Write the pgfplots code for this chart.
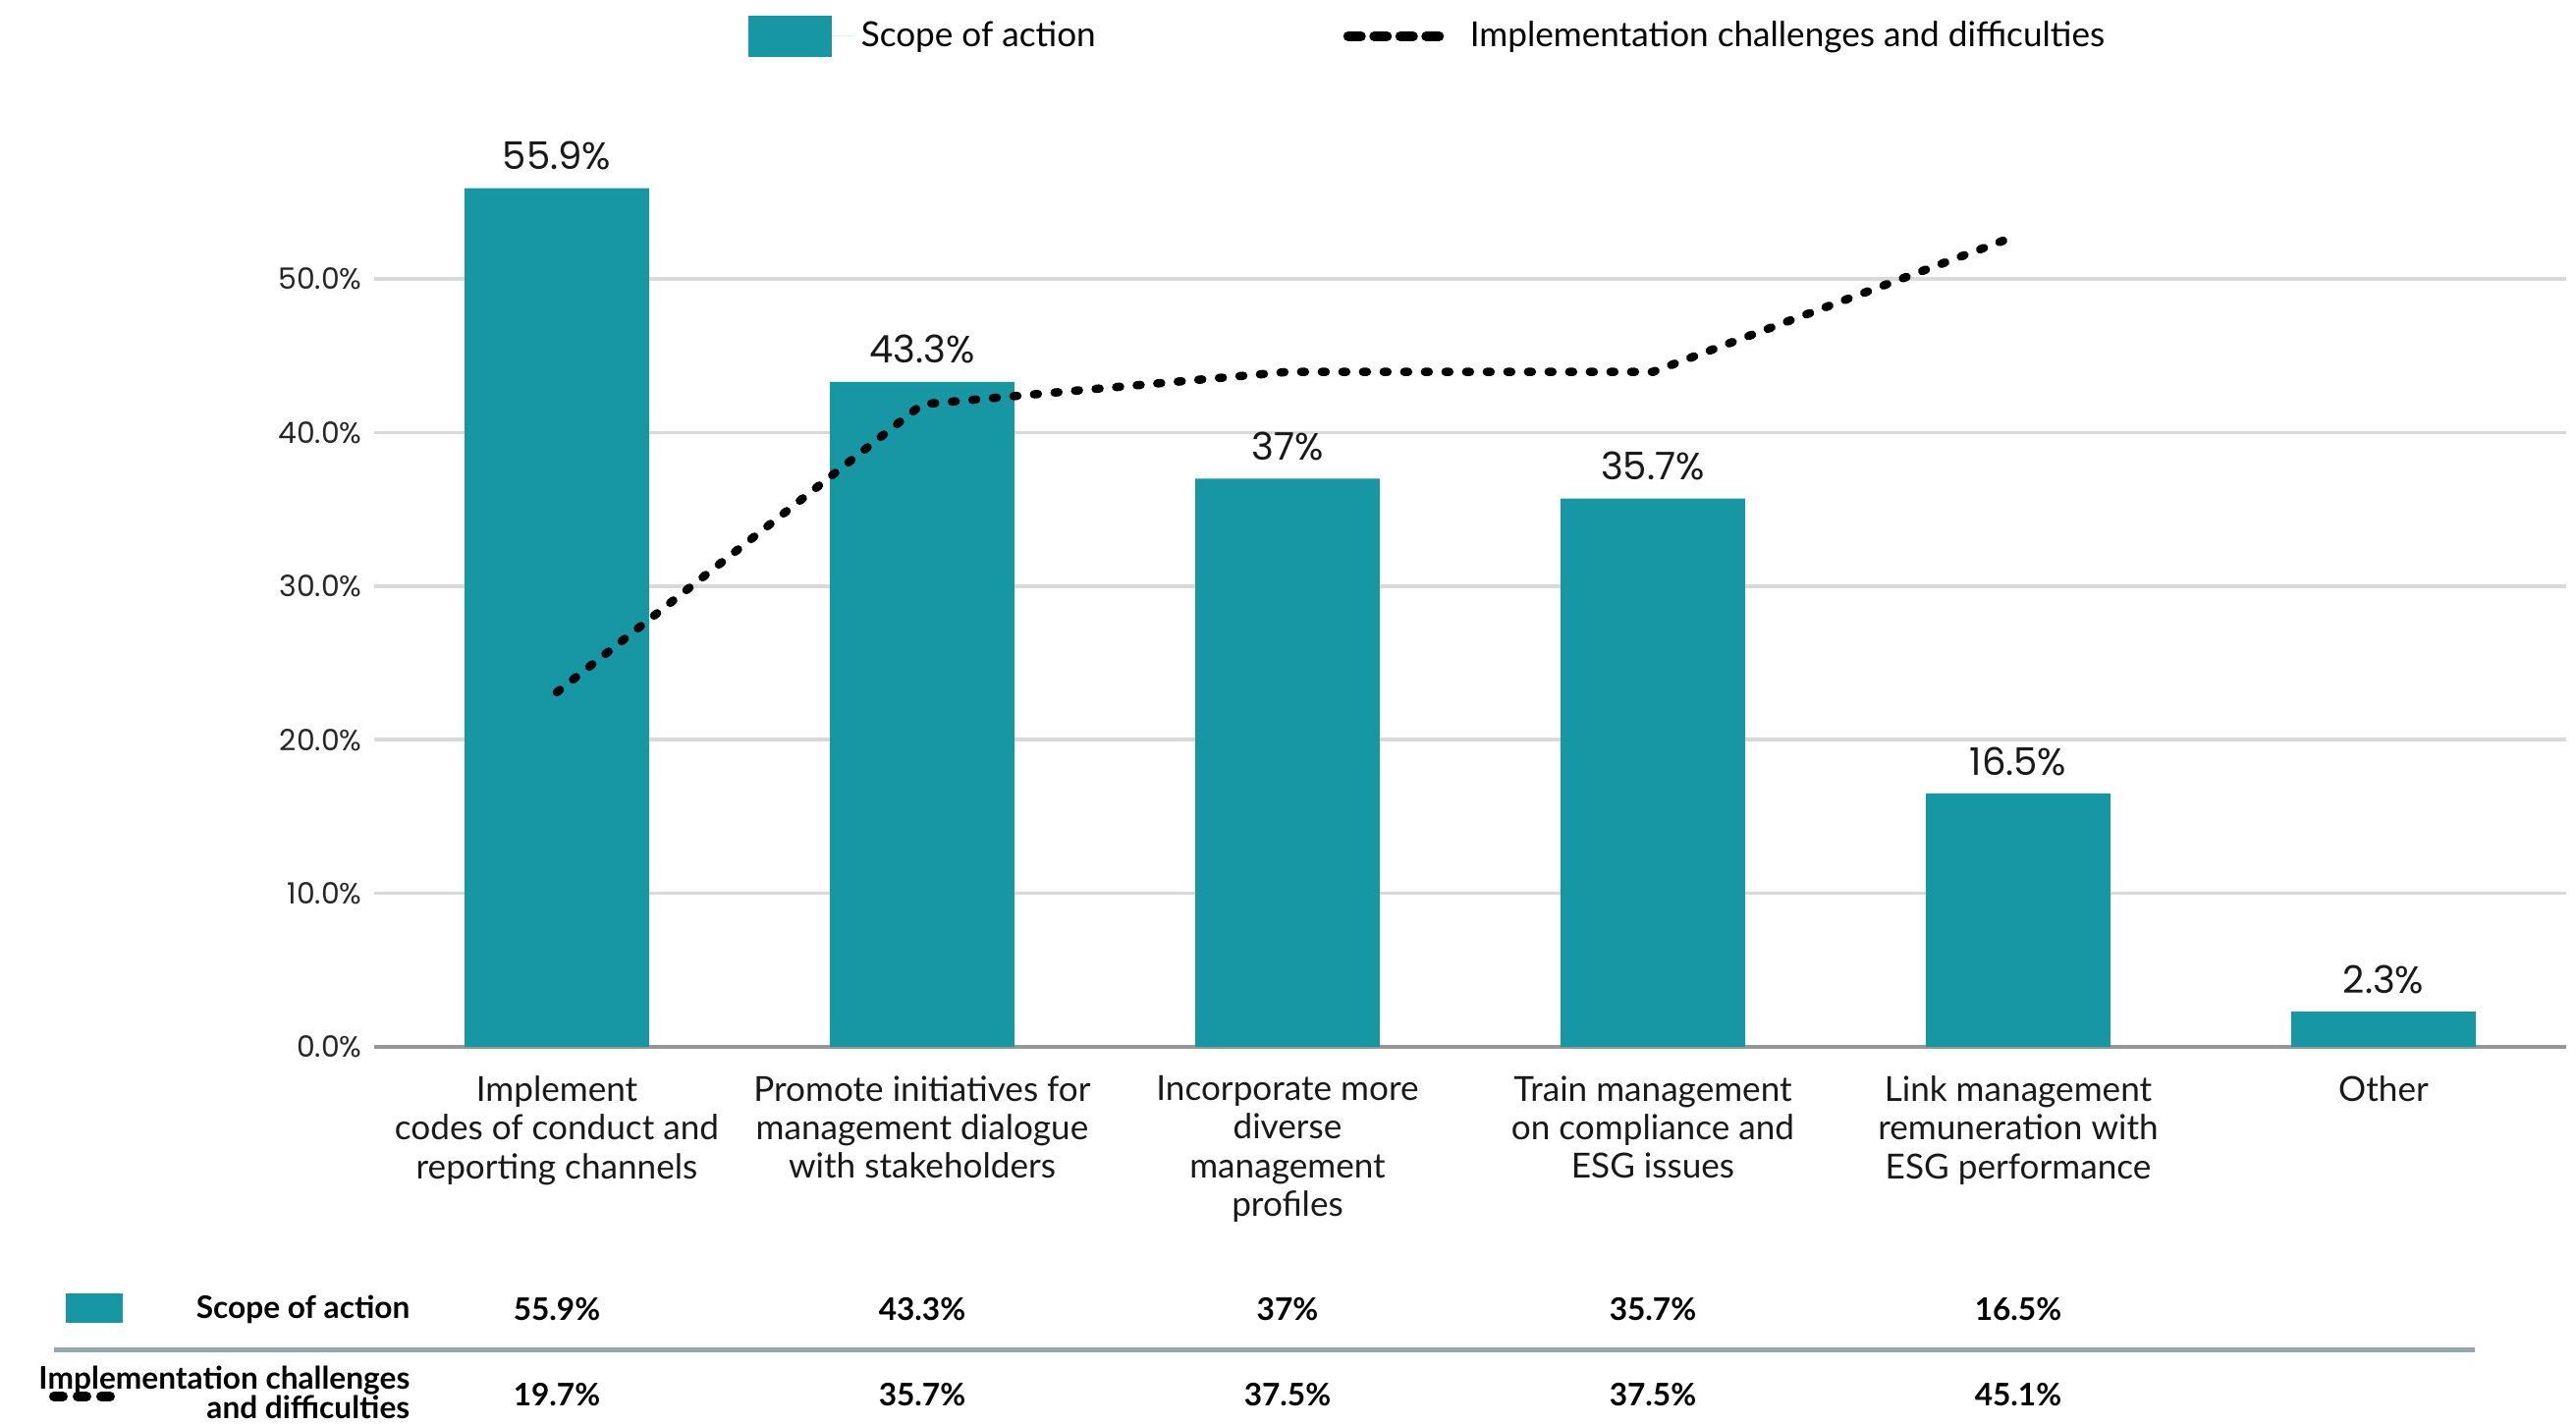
\documentclass[border=0pt]{standalone}
\usepackage{pgfplots}
\pgfplotsset{compat=1.18}
\usepackage{fontspec}
\setmainfont{Lato}
\newfontfamily\numfont{Poppins}

\definecolor{barteal}{RGB}{23,150,164}
\definecolor{gridc}{RGB}{217,217,217}
\definecolor{zeroc}{RGB}{150,150,150}
\definecolor{sepc}{RGB}{146,168,170}

\tikzset{
  chal/.style={black, line width=0.85mm, line cap=round, dash pattern=on 0.4mm off 1.7mm},
  challeg/.style={black, line width=1.0mm, line cap=round, dash pattern=on 1.3mm off 1.35mm},
}

\begin{document}
\begin{tikzpicture}
\path[use as bounding box] (-38.1mm,-38.4mm) rectangle (224.2mm,106.6mm);

% main axis: bars
\begin{axis}[
    at={(0,0)}, anchor=south west,
    scale only axis, width=223.2mm, height=93.84mm,
    xmin=-0.5, xmax=5.5, ymin=0, ymax=60,
    ybar, bar width=0.505,
    clip=false,
    /pgf/number format/assume math mode=true,
    xtick={0,...,5},
    xticklabels={
        {Implement\\codes of conduct and\\reporting channels},
        {Promote initiatives for\\management dialogue\\with stakeholders},
        {Incorporate more\\diverse\\management\\profiles},
        {Train management\\on compliance and\\ESG issues},
        {Link management\\remuneration with\\ESG performance},
        {Other}},
    xticklabel style={font=\fontsize{10}{11.2}\selectfont, align=center, text=black!90, yshift=-1.7mm},
    ytick={0,10,...,50},
    yticklabel={\pgfmathprintnumber[fixed,fixed zerofill,precision=1]{\tick}\%},
    yticklabel style={font=\numfont\fontsize{8.5}{10}\selectfont, text=black!85},
    major tick length=0pt,
    ymajorgrids,
    grid style={gridc, line width=0.35mm},
    axis x line*=bottom, axis y line*=left,
    x axis line style={zeroc, line width=0.35mm, -},
    y axis line style={draw=none},
    nodes near coords,
    point meta=explicit symbolic,
    nodes near coords style={font=\numfont\fontsize{11}{12}\selectfont, text=black!90, yshift=0.6mm},
    legend columns=2,
    legend style={at={(0.1703,1.0966)}, anchor=west, draw=none, fill=none,
        inner sep=0pt, font=\fontsize{10}{12}\selectfont,
        /tikz/every even column/.append style={column sep=24.5mm}},
]
\addplot[fill=barteal, draw=none,
    legend image code/.code={\fill[barteal] (0mm,-2.1mm) rectangle (8.5mm,2.1mm);
                             \path[draw=none] (0mm,0mm) -- (10.8mm,0mm);}]
coordinates {
    (0,55.9) [55.9\%]
    (1,43.3) [43.3\%]
    (2,37.0) [37\%]
    (3,35.7) [35.7\%]
    (4,16.5) [16.5\%]
    (5,2.3)  [2.3\%]
};
\addlegendentry{Scope of action}
\addlegendimage{legend image code/.code={\draw[challeg] (0.5mm,0mm) -- (9.75mm,0mm);
                                         \path[draw=none] (0mm,0mm) -- (12.2mm,0mm);}}
\addlegendentry{Implementation challenges and difficulties}
\end{axis}

% secondary (hidden) axis: line
\begin{axis}[
    at={(0,0)}, anchor=south west,
    scale only axis, width=223.2mm, height=93.84mm,
    xmin=-0.5, xmax=5.5, ymin=0, ymax=51.2,
    hide axis, clip=false,
]
\addplot[chal] coordinates {
    (0,19.7) (1,35.7) (2,37.5) (3,37.5) (4,45.1)
};
\end{axis}

% data table under the chart
\fill[barteal] (-31.4mm,-28.1mm) rectangle (-25.6mm,-25.1mm);
\draw[challeg, dash pattern=on 0.9mm off 1.5mm] (-32.6mm,-35.6mm) -- (-26.6mm,-35.6mm);
\node[anchor=east, font=\fontsize{9}{9}\selectfont\bfseries, inner sep=0pt] at (3.7mm,-26.7mm) {Scope of action};
\node[anchor=east, align=right, font=\fontsize{9}{8.5}\selectfont\bfseries, inner sep=0pt] at (3.7mm,-35.2mm) {Implementation challenges\\and difficulties};
\draw[sepc, line width=0.5mm] (-32.6mm,-30.9mm) -- (213.9mm,-30.9mm);
\foreach \x/\a/\b in {18.6/55.9\%/19.7\%, 55.8/43.3\%/35.7\%, 93.0/37\%/37.5\%, 130.2/35.7\%/37.5\%, 167.4/16.5\%/45.1\%}{
    \node[font=\fontsize{9}{10}\selectfont\bfseries] at (\x mm,-26.7mm) {\a};
    \node[font=\fontsize{9}{10}\selectfont\bfseries] at (\x mm,-35.4mm) {\b};
}
\end{tikzpicture}
\end{document}
